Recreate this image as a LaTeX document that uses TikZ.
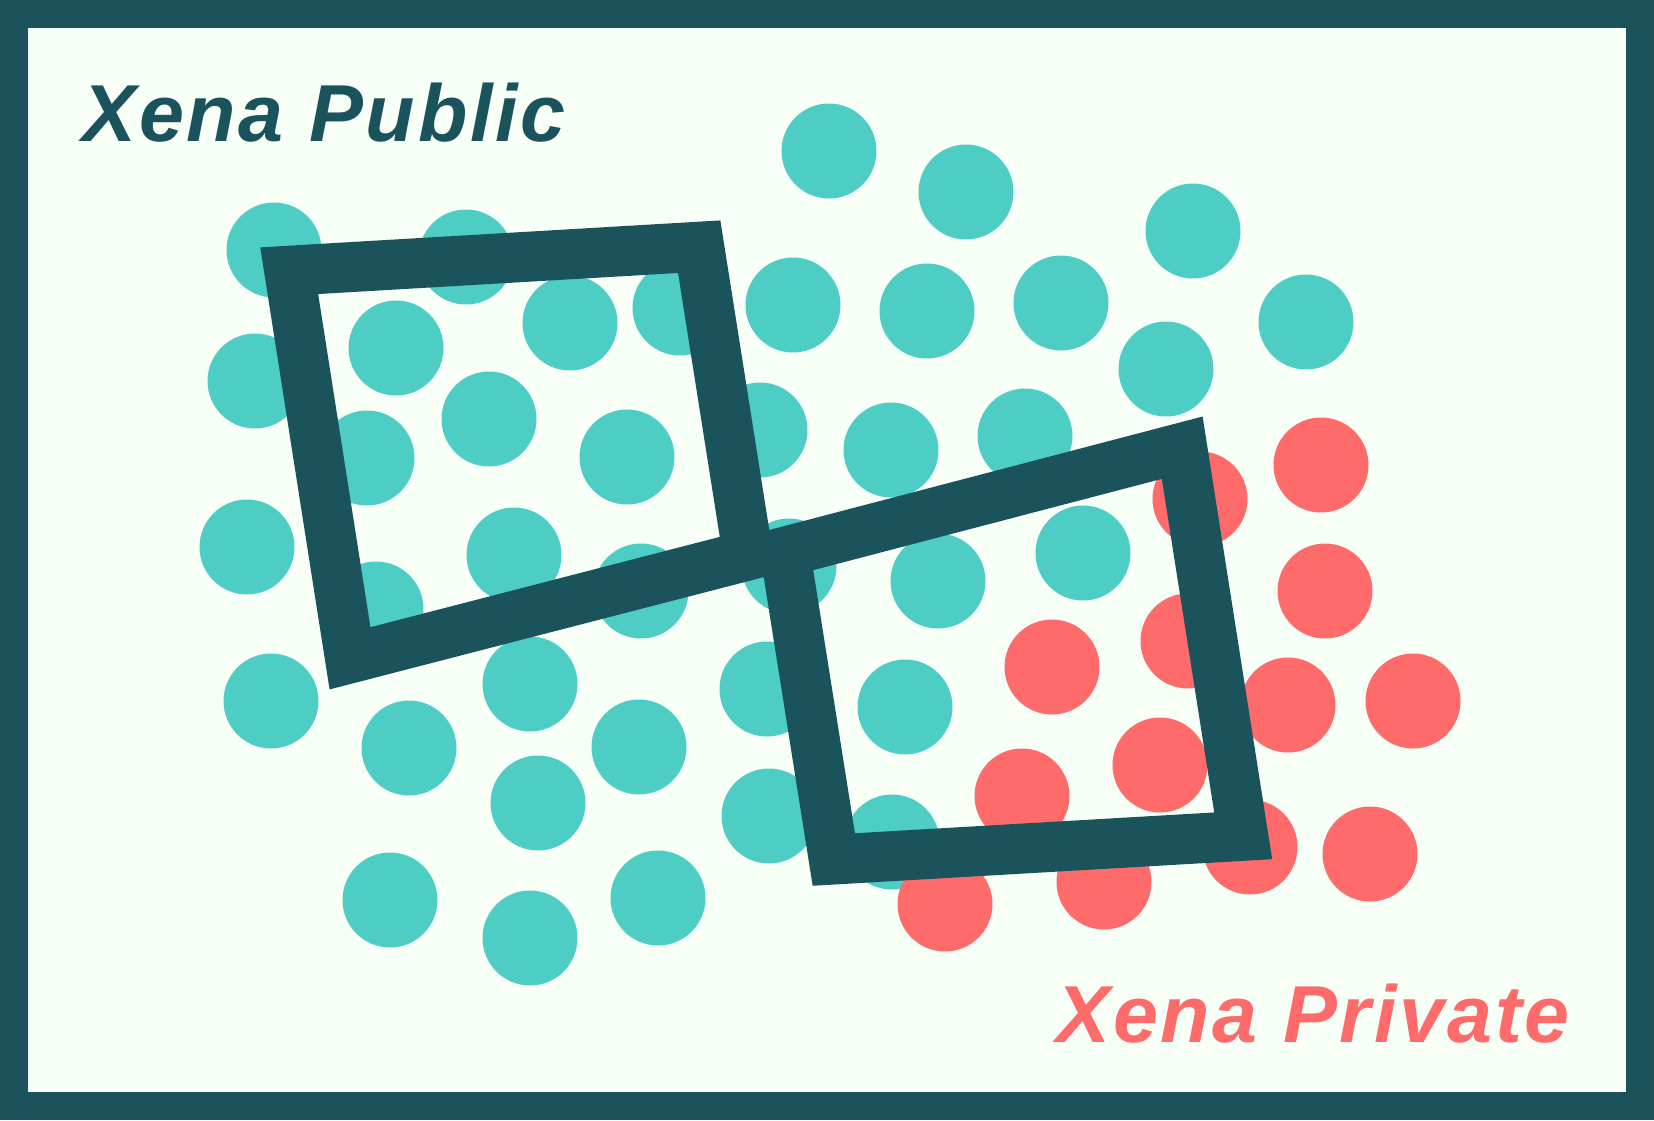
\documentclass[tikz,border=0pt]{standalone}
\usepackage{fontspec}
\setsansfont{Liberation Sans}[LetterSpace=3.5]
\usepackage{tikz}
\definecolor{xdark}{HTML}{1A535C}
\definecolor{xteal}{HTML}{4ECDC4}
\definecolor{xred}{HTML}{FF6B6B}
\definecolor{xmint}{HTML}{F7FFF7}

\begin{document}
\begin{tikzpicture}[x=0.02cm, y=-0.02cm,
  frame/.style={draw=xdark, line width=1cm, line join=miter},
  title/.style={font=\sffamily\bfseries\itshape\fontsize{46}{50}\selectfont, anchor=base west, inner sep=0pt}]

  \useasboundingbox (0,0) rectangle (1654,1120);

  %% border and background
  \fill[xdark] (0,0) rectangle (1654,1120);
  \fill[xmint] (28,28) rectangle (1626,1092);

  %% public dots
  \foreach \x/\y in {829/151, 966/192, 1193/231, 1306/322, 274/250, 466/257,
      396/348, 570/323, 680/308, 793/305, 927/311, 1061/303, 1166/369,
      255/381, 489/419, 367/458, 627/457, 760/430, 891/450, 1025/436,
      247/547, 514/555, 641/591, 789/566, 376/609, 938/581, 1083/553,
      271/701, 530/684, 409/748, 639/747, 767/689, 905/707, 538/803,
      769/816, 892/842, 390/900, 530/938, 658/898}{
    \fill[xteal] (\x,\y) circle (0.95cm);
  }

  %% private dots
  \foreach \x/\y in {1321/465, 1200/499, 1325/591, 1052/667, 1188/641,
      1288/705, 1413/701, 1022/796, 1160/765, 1250/847, 1370/854,
      945/904, 1104/882}{
    \fill[xred] (\x,\y) circle (0.95cm);
  }

  %% left frame
  \coordinate (ltl) at (289.2,270.7);
  \coordinate (ltr) at (699.2,246.7);
  \coordinate (lbr) at (748.0,555.4);
  \coordinate (lbl) at (350,658.3);
  \draw[frame] (ltl) -- (ltr) -- (lbr) -- (lbl) -- cycle;

  %% right frame
  \coordinate (rtl) at (785.0,551.7);
  \coordinate (rtr) at (1182.2,447.7);
  \coordinate (rbr) at (1243.2,835.8);
  \coordinate (rbl) at (833.8,859.5);
  \draw[frame] (rtl) -- (rtr) -- (rbr) -- (rbl) -- cycle;

  %% titles
  \node[title, text=xdark] (pubtitle) at (82,141) {Xena Public};
  \node[title, text=xred] (privtitle) at (1056,1042) {Xena Private};

\end{tikzpicture}
\end{document}
